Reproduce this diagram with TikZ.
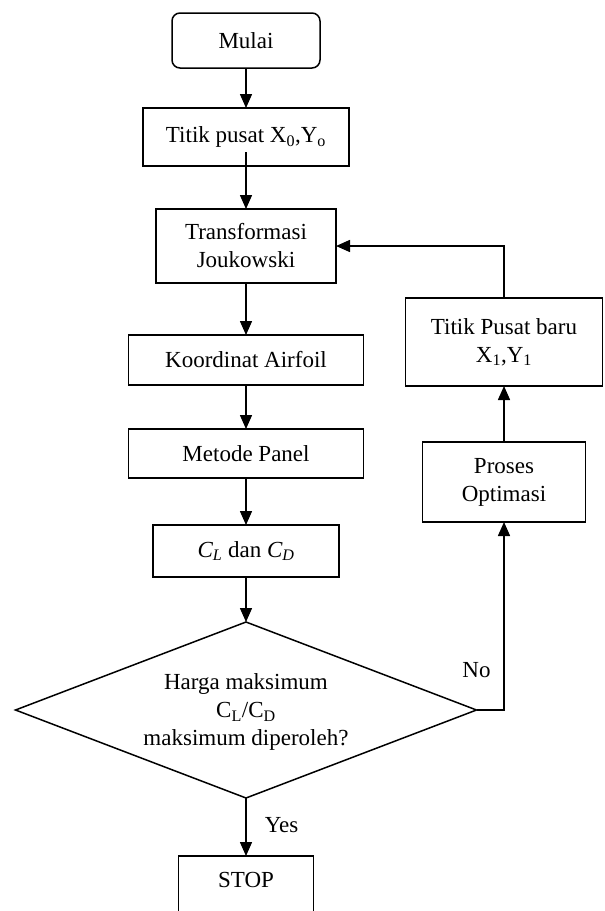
\documentclass[tikz,border=0pt]{standalone}
\usepackage{fontspec}
\setmainfont{Liberation Serif}
\usetikzlibrary{arrows.meta,positioning,shapes.geometric}

\begin{document}
\begin{tikzpicture}[x=1pt, y=-1pt, node distance=44pt, >={Triangle[length=14pt,width=12pt]},
 line width=1.5pt, font=\fontsize{23}{28}\selectfont,
 block/.style = {draw, rectangle, minimum height=50pt, inner sep=2pt, outer sep=0pt, align=center},
rblock/.style = {draw, rectangle, rounded corners=8pt, outer sep=0pt,
                 minimum width=148pt, minimum height=55pt},
dblock/.style = {draw, diamond, shape aspect=2.62, minimum width=461pt, minimum height=176pt,
                 inner sep=0pt, outer sep=0pt, align=center},
  lbl/.style = {inner sep=0pt},
                        ]
    \useasboundingbox (0,0) rectangle (605,911);

    \node [rblock]                                      at (246,40.5) (mulai) {Mulai};
    \node [block, below=40pt of mulai, minimum width=206pt, minimum height=58pt] (tp)
          {Titik pusat X\textsubscript{0},Y\textsubscript{o}};
    \node [block, below=43pt of tp, minimum width=180pt, minimum height=74pt] (tj)
          {Transformasi\\Joukowski};
    \node [block, below=52pt of tj, minimum width=235pt] (ka)   {Koordinat Airfoil};
    \node [block, below=44pt of ka, minimum width=235pt, minimum height=49pt] (mp) {Metode Panel};
    \node [block, below=47pt of mp, minimum width=186pt, minimum height=52pt] (cl)
          {\textit{C\textsubscript{L}} dan \textit{C\textsubscript{D}}};
    \node [dblock, below=45pt of cl, text depth=-4pt]   (dec)
          {Harga maksimum\\C\textsubscript{L}/C\textsubscript{D}\\maksimum diperoleh?};
    % runs past the lower edge, as in the source
    \node [block, below=58pt of dec, minimum width=135pt, inner ysep=15pt, text height=16pt,
           text depth=20pt] (stop) {STOP};

    \node [block, minimum width=197pt, minimum height=88pt] at (504,342) (tpb)
          {Titik Pusat baru\\X\textsubscript{1},Y\textsubscript{1}};
    \node [block, minimum width=163pt, minimum height=80pt] at (504,482) (po)
          {Proses\\Optimasi};
    \node [lbl, above=32pt of dec.east]                 (no)  {No};

    \draw[->] (mulai) -- (tp);
    \draw[->] ([yshift=14pt]tp.south) -- (tj);
    \draw[->] (tj) -- (ka);
    \draw[->] (ka) -- (mp);
    \draw[->] (mp) -- (cl);
    \draw[->] (cl) -- (dec);
    \draw[->] (dec) -- node[lbl, right=18pt, yshift=2pt] {Yes} (stop.north);
    \draw[->] (dec.east) -| (po);
    \draw[->] (po) -- (tpb);
    \draw[->] (tpb) |- (tj);
\end{tikzpicture}
\end{document}
